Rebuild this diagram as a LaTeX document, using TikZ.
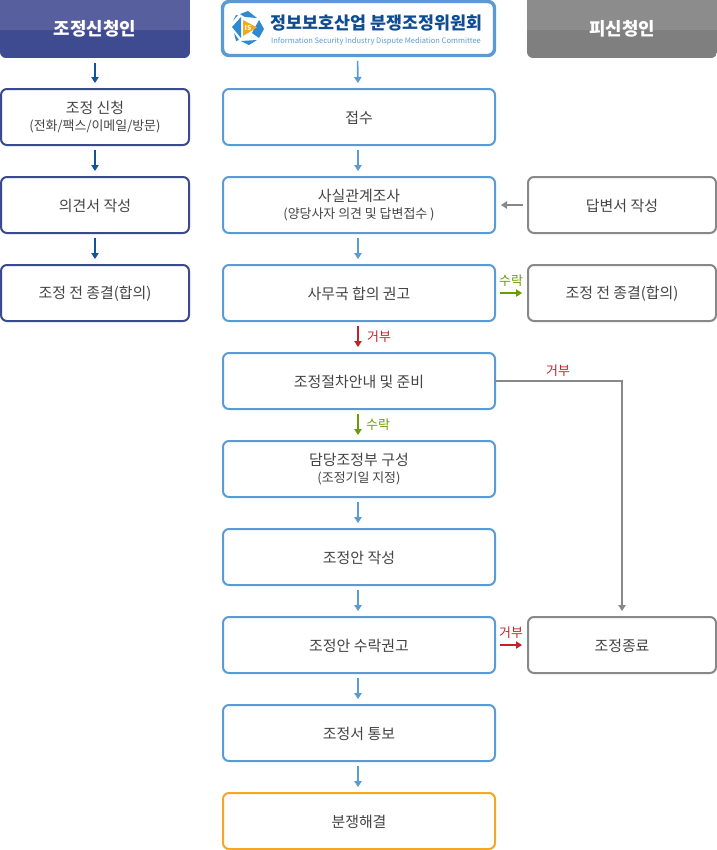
\documentclass[tikz,border=0pt]{standalone}
\usepackage{fontspec}
\usetikzlibrary{arrows.meta,calc}
\setmainfont{Noto Sans CJK KR}
\definecolor{navy}{HTML}{3B4A8E}
\definecolor{navytop}{HTML}{575F9E}
\definecolor{navybot}{HTML}{3F4B90}
\definecolor{darrow}{HTML}{0F5599}
\definecolor{sky}{HTML}{5B9BD5}
\definecolor{iconblue}{HTML}{2F8BD0}
\definecolor{orangeb}{HTML}{F5A623}
\definecolor{greyb}{HTML}{888888}
\definecolor{greytop}{HTML}{8C8C8C}
\definecolor{greybot}{HTML}{7F7F7F}
\definecolor{okgreen}{HTML}{6A9E00}
\definecolor{nored}{HTML}{C8202A}
\definecolor{txt}{HTML}{444444}
\definecolor{logoblue}{HTML}{0F4C92}
\newcommand\smalltxt[1]{{\fontsize{9.7pt}{12pt}\selectfont #1}}
\newcommand\onel[1]{\raisebox{-0.75pt}[\height][\depth]{#1}}
\tikzset{
  x=0.75pt,y=-0.75pt,
  box/.style={draw,line width=1.5pt,rounded corners=4.5pt,fill=white,outer sep=0pt,inner sep=0pt,
    minimum height=42pt,align=center,text=txt,font=\fontsize{11.2pt}{14pt}\selectfont},
  lbox/.style={box,draw=navy,minimum width=141pt},
  mbox/.style={box,draw=sky,minimum width=204pt},
  rbox/.style={box,draw=greyb,minimum width=141pt},
  head/.style={inner sep=0pt,outer sep=0pt,text=white,font=\fontsize{13.4pt}{15pt}\selectfont\bfseries},
  conn/.style={line width=1.25pt,-{Triangle[length=4.5pt,width=5.5pt]},shorten >=4.5pt,shorten <=4pt},
  larrow/.style={conn,draw=darrow},
  marrow/.style={conn,draw=sky},
  garrow/.style={conn,draw=greyb},
  yarrow/.style={conn,draw=okgreen},
  narrow/.style={conn,draw=nored},
  lab/.style={inner sep=0pt,font=\fontsize{9.7pt}{11pt}\selectfont},
}
\begin{document}
\begin{tikzpicture}
\useasboundingbox (0,0) rectangle (717,850);
% headers
\begin{scope}
\clip[rounded corners=4.5pt] (0,-8) rectangle (190,58);
\fill[navybot] (0,-8) rectangle (190,58);
\fill[navytop] (0,-8) rectangle (190,30);
\end{scope}
\node[head,minimum width=142.5pt,minimum height=43.5pt] (h1) at (95,29) {조정신청인};
\begin{scope}
\clip[rounded corners=4.5pt] (527,-8) rectangle (717,58);
\fill[greybot] (527,-8) rectangle (717,58);
\fill[greytop] (527,-8) rectangle (717,30);
\end{scope}
\node[head,minimum width=142.5pt,minimum height=43.5pt] (h3) at (622,29) {피신청인};
% logo box
\node[draw=sky,line width=2.6pt,rounded corners=5pt,fill=white,minimum width=204pt,minimum height=40.5pt,inner sep=0pt,outer sep=0pt] (h2) at (358.5,28.5) {};
\fill[iconblue] (232,27) -- (241,17) -- (241,38) -- cycle;
\fill[iconblue] (240,14) -- (248,11) -- (257,18) -- (245,17) -- cycle;
\fill[iconblue] (259,20) -- (264,29) -- (259,38) -- (252,33) -- cycle;
\fill[iconblue] (241,41) -- (257,40) -- (249,45) -- cycle;
\fill[iconblue] (234,33) -- (239,40) -- (236,41) -- cycle;
\fill[iconblue] (236,15) -- (238,15) -- (233,21) -- cycle;
\fill[orangeb] (243,20) -- (257,27.5) -- (243,36) -- cycle;
\node[inner sep=0pt,text=white,font=\fontsize{5pt}{5pt}\selectfont\bfseries] (isl) at (248,28) {IS};
\node[inner sep=0pt,text=logoblue,font=\fontsize{13pt}{14pt}\selectfont\bfseries] (lt1) at (376.5,23) {정보보호산업 분쟁조정위원회};
\node[inner sep=0pt,text=sky,font=\fontsize{5.65pt}{7pt}\selectfont] (lt2) at (376,41) {Information Security Industry Dispute Mediation Committee};
% left
\node[lbox] (l1) at (95,117) {조정 신청\\[-1.6pt]\smalltxt{(전화/팩스/이메일/방문)}};
\node[lbox] (l2) at (95,205) {\onel{의견서 작성}};
\node[lbox] (l3) at (95,293) {\onel{조정 전 종결(합의)}};
% middle
\node[mbox] (m1) at (359,117) {\onel{접수}};
\node[mbox] (m2) at (359,205) {사실관계조사\\[-1.6pt]\smalltxt{(양당사자 의견 및 답변접수 )}};
\node[mbox] (m3) at (359,293) {\onel{사무국 합의 권고}};
\node[mbox] (m4) at (359,381) {\onel{조정절차안내 및 준비}};
\node[mbox] (m5) at (359,469) {담당조정부 구성\\[-1.6pt]\smalltxt{(조정기일 지정)}};
\node[mbox] (m6) at (359,557) {\onel{조정안 작성}};
\node[mbox] (m7) at (359,645) {\onel{조정안 수락권고}};
\node[mbox] (m8) at (359,733) {\onel{조정서 통보}};
\node[mbox,draw=orangeb] (m9) at (359,821) {\onel{분쟁해결}};
% right
\node[rbox] (r2) at (622,205) {\onel{답변서 작성}};
\node[rbox] (r3) at (622,293) {\onel{조정 전 종결(합의)}};
\node[rbox] (r7) at (622,645) {\onel{조정종료}};
% connectors
\draw[larrow] (h1) -- (l1);
\draw[larrow] (l1) -- (l2);
\draw[larrow] (l2) -- (l3);
\draw[marrow] ($(h2.south)+(-1,0)$) -- ($(m1.north)+(-1,0)$);
\draw[marrow] ($(m1.south)+(-1,0)$) -- ($(m2.north)+(-1,0)$);
\draw[marrow] ($(m2.south)+(-1,0)$) -- ($(m3.north)+(-1,0)$);
\draw[narrow] ($(m3.south)+(-1,0)$) -- ($(m4.north)+(-1,0)$);
\draw[yarrow] ($(m4.south)+(-1,0)$) -- ($(m5.north)+(-1,0)$);
\draw[marrow] ($(m5.south)+(-1,0)$) -- ($(m6.north)+(-1,0)$);
\draw[marrow] ($(m6.south)+(-1,0)$) -- ($(m7.north)+(-1,0)$);
\draw[marrow] ($(m7.south)+(-1,0)$) -- ($(m8.north)+(-1,0)$);
\draw[marrow] ($(m8.south)+(-1,0)$) -- ($(m9.north)+(-1,0)$);
\draw[garrow] (r2) -- (m2);
\draw[yarrow] (m3) -- (r3);
\draw[narrow] (m7) -- (r7);
\draw[garrow,shorten <=0pt] (m4.east) -| (r7.north);
% labels
\node[lab,text=okgreen] (a1) at (511,281) {수락};
\node[lab,text=nored] (a2) at (379,337) {거부};
\node[lab,text=nored] (a3) at (558,371) {거부};
\node[lab,text=okgreen] (a4) at (378,425) {수락};
\node[lab,text=nored] (a5) at (511,633) {거부};
\end{tikzpicture}
\end{document}
